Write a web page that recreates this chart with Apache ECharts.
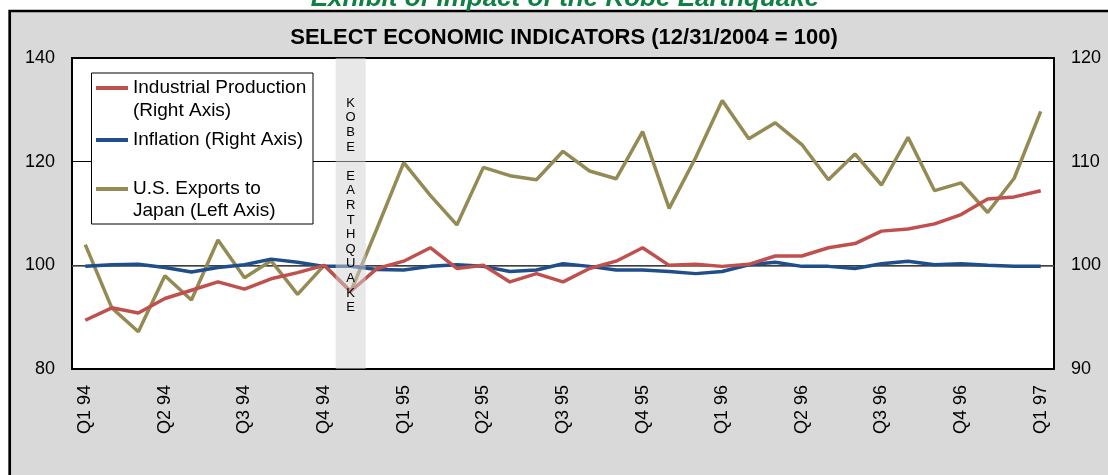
<!DOCTYPE html>
<html><head><meta charset="utf-8">
<script src="https://cdn.jsdelivr.net/npm/echarts@6/dist/echarts.min.js"></script>
<style>html,body{margin:0;padding:0;background:#fff}#c{width:1108px;height:475px}</style>
</head><body><div id="c"></div>
<script>
const months = ["Jan 94","Feb 94","Mar 94","Apr 94","May 94","Jun 94","Jul 94","Aug 94","Sep 94","Oct 94","Nov 94","Dec 94",
  "Jan 95","Feb 95","Mar 95","Apr 95","May 95","Jun 95","Jul 95","Aug 95","Sep 95","Oct 95","Nov 95","Dec 95",
  "Jan 96","Feb 96","Mar 96","Apr 96","May 96","Jun 96","Jul 96","Aug 96","Sep 96","Oct 96","Nov 96","Dec 96","Jan 97"];
const quarterLabels = ["Q1 94","Q2 94","Q3 94","Q4 94","Q1 95","Q2 95","Q3 95","Q4 95","Q1 96","Q2 96","Q3 96","Q4 96","Q1 97"];
const industrialProduction = [94.7,95.9,95.4,96.8,97.6,98.4,97.7,98.7,99.3,100.0,97.5,99.7,100.4,101.7,99.7,100.0,98.4,99.2,98.4,99.7,100.4,101.7,100.0,100.1,99.9,100.1,100.9,100.9,101.7,102.1,103.3,103.5,104.0,104.9,106.4,106.6,107.2];
const inflation = [99.9,100.05,100.1,99.8,99.35,99.8,100.05,100.6,100.3,99.9,99.9,99.6,99.55,99.9,100.05,99.9,99.4,99.55,100.15,99.9,99.55,99.55,99.4,99.2,99.4,100.05,100.3,99.9,99.9,99.7,100.15,100.4,100.05,100.15,100.0,99.9,99.9];
const usExportsToJapan = [104.0,91.8,87.2,98.0,93.3,104.9,97.6,100.9,94.4,100.0,94.9,107.2,119.8,113.5,107.8,118.9,117.3,116.5,122.0,118.2,116.7,125.8,111.0,120.8,131.8,124.4,127.5,123.3,116.5,121.5,115.5,124.7,114.4,115.9,110.2,116.8,129.7];
const leftTicks = [80,100,120,140];
const rightTicks = [90,100,110,120];
const quakeMonth = "Nov 94";
const quakeText = "KOBE EARTHQUAKE";

const names = {
  ip: "Industrial Production\n(Right Axis)",
  inf: "Inflation (Right Axis)",
  ex: "U.S. Exports to\nJapan (Left Axis)"
};
const colors = { ip: "#c0504d", inf: "#1f4e8a", ex: "#948a54" };
const FONT = "Liberation Sans, Arial, sans-serif";
const quakeBand = months.map(m => m === quakeMonth ? leftTicks[leftTicks.length-1] : null);
const quakeVertical = quakeText.split("").join("\n");

const chart = echarts.init(document.getElementById('c'), null, {renderer: 'canvas'});

function legendOf(name, top, twoLine, lh) {
  return {
    data: [name],
    left: 96, top: top, padding: 0,
    orient: 'vertical',
    icon: 'rect', itemWidth: 32, itemHeight: 4,
    itemGap: 0,
    selectedMode: false,
    formatter: n => twoLine ? '\n' + n : n,
    textStyle: { fontFamily: FONT, fontSize: 19, color: '#000', lineHeight: lh },
    z: 6
  };
}

chart.setOption({
  backgroundColor: '#fff',
  animation: false,
  graphic: [
    { type: 'rect', z: -10, shape: { x: 9.7, y: 11, width: 1200, height: 600 },
      style: { fill: '#d9d9d9', stroke: '#000', lineWidth: 2.7 } },
    { type: 'text', z: 5, x: 565, y: 12,
      style: { text: 'Exhibit of Impact of the Kobe Earthquake', fill: '#0f7f43',
        font: 'italic bold 26px ' + FONT, align: 'center', verticalAlign: 'bottom' } },
    { type: 'text', z: 5, x: 564, y: 37.5,
      style: { text: 'SELECT ECONOMIC INDICATORS (12/31/2004 = 100)', fill: '#000',
        font: 'bold 22px ' + FONT, align: 'center', verticalAlign: 'middle' } },
    { type: 'rect', z: 5, shape: { x: 91.5, y: 73, width: 221.5, height: 151 },
      style: { fill: '#fff', stroke: '#000', lineWidth: 1 } }
  ],
  legend: [
    legendOf(names.ip, 53.5, true, 23),
    legendOf(names.inf, 128.5, false, 23),
    legendOf(names.ex, 156, true, 22)
  ],
  grid: { left: 72, right: 54, top: 58, bottom: 106, show: true, backgroundColor: '#fff',
    borderColor: '#000', borderWidth: 2 },
  xAxis: {
    type: 'category', data: months, boundaryGap: true,
    axisLine: { show: false }, axisTick: { show: false },
    axisLabel: { interval: 0, rotate: 90, margin: 16, fontFamily: FONT, fontSize: 18, color: '#000',
      formatter: (v, i) => i % 3 === 0 ? quarterLabels[i / 3] : '' }
  },
  yAxis: [
    { type: 'value', min: leftTicks[0], max: leftTicks[leftTicks.length-1], interval: leftTicks[1]-leftTicks[0],
      position: 'left', axisLine: { show: false }, axisTick: { show: false },
      axisLabel: { margin: 17, fontFamily: FONT, fontSize: 18, color: '#000' },
      splitLine: { show: true, lineStyle: { color: '#000', width: 1 } } },
    { type: 'value', min: rightTicks[0], max: rightTicks[rightTicks.length-1], interval: rightTicks[1]-rightTicks[0],
      position: 'right', axisLine: { show: false }, axisTick: { show: false },
      axisLabel: { margin: 17, fontFamily: FONT, fontSize: 18, color: '#000' },
      splitLine: { show: false } }
  ],
  series: [
    { name: names.ex, type: 'line', yAxisIndex: 0, data: usExportsToJapan, symbol: 'none',
      lineStyle: { color: colors.ex, width: 3.5 }, itemStyle: { color: colors.ex }, z: 2,
      markLine: { silent: true, symbol: 'none', label: { show: false },
        lineStyle: { color: '#555', width: 1.6, type: 'solid' }, data: [{ yAxis: 100 }], z: 1 } },
    { name: names.inf, type: 'line', yAxisIndex: 1, data: inflation, symbol: 'none',
      lineStyle: { color: colors.inf, width: 3.5 }, itemStyle: { color: colors.inf }, z: 2 },
    { name: names.ip, type: 'line', yAxisIndex: 1, data: industrialProduction, symbol: 'none',
      lineStyle: { color: colors.ip, width: 3.5 }, itemStyle: { color: colors.ip }, z: 2 },
    { name: 'quake', type: 'bar', yAxisIndex: 0, data: quakeBand, barWidth: 30, z: 4, clip: true,
      itemStyle: { color: 'rgba(210,210,210,0.5)' }, silent: true,
      label: { show: true, position: 'inside', offset: [0, -8], formatter: quakeVertical,
        fontFamily: FONT, fontSize: 13, lineHeight: 14.6, color: '#000' } }
  ]
});
</script></body></html>
